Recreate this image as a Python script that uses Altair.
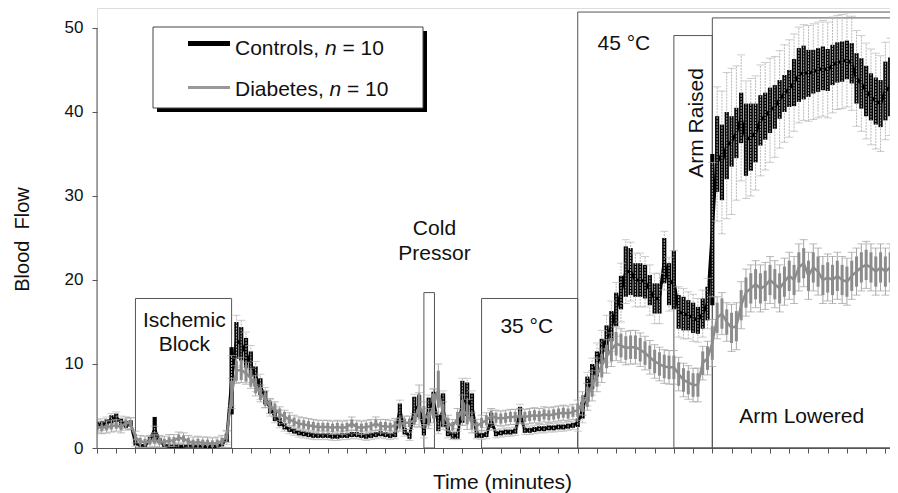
import altair as alt
import pandas as pd

# time grid (minutes), one reading every 0.25 min
minutes = [i * 0.25 for i in range(167)]

# Controls: mean, half-height of the thick black trace, SE error bar
c_mean = [
    2.7, 2.8, 3.0, 3.4, 3.6, 3.1, 2.8, 2.9,
    0.6, 0.3, 0.3, 1.0, 2.2, 0.9, 0.3, 0.2,
    0.2, 0.2, 0.2, 0.2, 0.2, 0.2, 0.2, 0.2,
    0.2, 0.2, 0.4, 1.2,
    8.0, 12.8, 12.4, 11.3,
    10.0, 8.5, 7.3, 6.0,
    4.8, 3.8, 3.1, 2.6,
    2.2, 2.0, 1.8, 1.7,
    1.6, 1.5, 1.5, 1.5,
    1.5, 1.4, 1.4, 1.5,
    1.5, 1.6, 1.6, 1.5,
    1.4, 1.5, 1.6, 1.7,
    1.6, 1.5, 1.6, 4.5,
    2.0, 1.4, 4.6, 5.0,
    2.0, 4.5, 5.5, 3.0,
    4.5, 2.0, 1.5, 1.5,
    5.5, 5.8, 5.0, 1.6,
    1.5, 1.6, 3.3, 1.7,
    1.8, 1.9, 1.9, 2.0,
    4.1, 2.1, 2.1, 2.2,
    2.3, 2.3, 2.4, 2.4,
    2.5, 2.5, 2.6, 2.7,
    3.0, 4.5, 7.0, 8.5,
    10.0, 11.5, 13.0, 14.5,
    16.5, 18.5, 21.0, 21.0,
    20.0, 20.0, 19.8, 18.8,
    17.8, 17.8, 22.3, 19.5,
    20.0, 16.2, 16.0, 15.8,
    15.5, 15.2, 16.0, 17.2,
    26.0, 35.0, 34.0, 36.0,
    36.5, 37.5, 39.3, 36.7,
    37.0, 37.5, 39.0, 39.5,
    40.2, 40.6, 41.5, 42.2,
    42.8, 43.5, 44.4, 44.7,
    44.6, 44.8, 45.0, 45.2,
    45.0, 45.6, 45.9, 46.0,
    46.2, 45.8, 44.0, 43.4,
    42.5, 41.8, 41.3, 41.0,
    42.5, 43.0, 41.5,
]
c_band = [
    0.4, 0.4, 0.4, 0.5, 0.5, 0.4, 0.4, 0.4,
    0.3, 0.2, 0.2, 0.3, 1.5, 0.3, 0.2, 0.2,
    0.2, 0.2, 0.2, 0.2, 0.2, 0.2, 0.2, 0.2,
    0.2, 0.2, 0.2, 0.5,
    4.0, 2.2, 2.0, 1.8,
    1.5, 1.2, 1.0, 0.8,
    0.7, 0.6, 0.5, 0.4,
    0.3, 0.3, 0.3, 0.3,
    0.3, 0.3, 0.3, 0.3,
    0.3, 0.3, 0.3, 0.3,
    0.3, 0.3, 0.3, 0.3,
    0.3, 0.3, 0.3, 0.3,
    0.3, 0.3, 0.3, 0.8,
    0.4, 0.3, 1.5, 1.3,
    0.5, 1.5, 1.2, 1.0,
    2.0, 0.6, 0.4, 0.4,
    2.5, 2.0, 1.5, 0.4,
    0.3, 0.3, 0.9, 0.3,
    0.3, 0.3, 0.3, 0.3,
    0.8, 0.3, 0.3, 0.3,
    0.3, 0.3, 0.3, 0.3,
    0.3, 0.3, 0.3, 0.3,
    0.5, 1.0, 1.5, 1.5,
    1.5, 1.5, 1.6, 1.8,
    2.0, 2.0, 3.0, 2.8,
    2.0, 2.0, 2.0, 1.8,
    1.8, 1.8, 2.7, 2.5,
    3.5, 2.0, 2.0, 1.8,
    1.8, 1.6, 1.8, 2.0,
    9.0, 4.5, 4.5, 4.0,
    3.0, 3.0, 3.0, 4.3,
    4.0, 3.5, 3.0, 2.8,
    2.7, 2.6, 2.3, 2.2,
    2.2, 2.8, 3.2, 3.2,
    2.8, 2.6, 2.6, 2.6,
    2.5, 2.4, 2.4, 2.4,
    2.3, 2.4, 3.0, 3.0,
    3.0, 2.8, 2.8, 2.8,
    3.5, 3.5, 3.5,
]
c_se = [
    0.7, 0.7, 0.7, 0.7, 0.7, 0.7, 0.7, 0.7,
    0.4, 0.4, 0.4, 0.4, 0.4, 0.4, 0.4, 0.4,
    0.4, 0.4, 0.4, 0.4, 0.4, 0.4, 0.4, 0.4,
    0.4, 0.4, 0.4, 0.8,
    3.0, 3.0, 2.8, 2.5,
    2.2, 1.8, 1.5, 1.2,
    1.0, 0.8, 0.7, 0.6,
    0.5, 0.5, 0.5, 0.5,
    0.5, 0.5, 0.5, 0.5,
    0.5, 0.5, 0.5, 0.5,
    0.5, 0.5, 0.5, 0.5,
    0.5, 0.5, 0.5, 0.5,
    0.5, 0.5, 0.5, 1.2,
    0.6, 0.5, 1.8, 1.6,
    0.8, 1.8, 1.6, 1.3,
    2.3, 0.8, 0.5, 0.5,
    2.8, 2.5, 1.8, 0.5,
    0.5, 0.5, 1.2, 0.5,
    0.5, 0.5, 0.5, 0.5,
    1.1, 0.5, 0.5, 0.5,
    0.5, 0.5, 0.5, 0.5,
    0.5, 0.5, 0.5, 0.5,
    1.0, 1.5, 2.0, 2.2,
    2.5, 2.5, 2.8, 3.0,
    3.2, 3.5, 3.8, 3.5,
    3.2, 3.2, 3.0, 3.0,
    3.0, 3.0, 3.5, 3.2,
    3.5, 3.0, 3.0, 2.8,
    2.8, 2.6, 2.8, 3.0,
    8.0, 8.0, 8.5, 8.7,
    8.7, 8.0, 7.5, 7.0,
    7.0, 6.8, 6.6, 6.4,
    6.2, 6.0, 5.8, 5.8,
    5.8, 5.8, 5.7, 5.7,
    5.7, 5.7, 5.7, 5.7,
    5.7, 5.7, 5.6, 5.6,
    5.6, 5.6, 5.7, 5.7,
    5.7, 5.7, 5.7, 5.7,
    5.8, 5.8, 5.8,
]

# Diabetes: mean, half-height of the grey trace, SE error bar
d_mean = [
    2.5, 2.4, 2.5, 2.6, 2.7, 2.5, 3.0, 2.9,
    1.3, 0.8, 0.7, 0.8, 0.9, 0.8, 0.7, 0.9,
    0.9, 1.2, 1.1, 0.8, 0.6, 0.7, 0.6, 0.6,
    0.5, 0.6, 0.8, 1.4,
    6.5, 9.2, 9.3, 8.9,
    8.3, 7.4, 6.5, 5.8,
    5.0, 4.6, 4.1, 3.7,
    3.4, 3.1, 2.9, 2.8,
    2.7, 2.6, 2.5, 2.5,
    2.5, 2.4, 2.5, 2.4,
    2.5, 2.9, 2.5, 2.4,
    2.5, 2.6, 2.9, 2.6,
    2.6, 2.5, 2.7, 2.8,
    3.0, 3.0, 3.3, 5.0,
    4.0, 3.5, 5.0, 7.0,
    4.0, 3.0, 2.6, 3.5,
    4.5, 4.0, 3.0, 2.6,
    3.0, 3.3, 3.8, 3.6,
    3.5, 3.6, 3.7, 3.7,
    3.8, 3.7, 3.8, 3.9,
    3.8, 4.0, 3.9, 4.0,
    4.1, 4.2, 4.1, 4.3,
    4.5, 5.3, 6.1, 7.4,
    8.7, 9.8, 10.9, 11.7,
    12.4, 12.2, 11.9, 12.0,
    12.0, 11.7, 11.3, 10.8,
    10.3, 10.0, 9.7, 9.6,
    9.6, 8.8, 8.1, 7.8,
    7.5, 7.5, 10.1, 10.7,
    12.5, 15.5, 16.0, 15.0,
    14.3, 14.5, 17.0, 18.5,
    19.0, 19.5, 19.0, 19.3,
    20.0, 19.5, 19.0, 19.8,
    20.5, 20.0, 21.5, 22.0,
    20.5, 21.5, 21.0, 20.0,
    20.3, 20.0, 20.5, 20.0,
    19.8, 20.5, 21.0, 21.5,
    21.8, 21.5, 21.0, 21.5,
    21.0, 21.5, 20.8,
]
d_band = [
    0.4, 0.4, 0.4, 0.4, 0.4, 0.4, 0.4, 0.4,
    0.4, 0.4, 0.4, 0.4, 0.4, 0.4, 0.4, 0.4,
    0.4, 0.4, 0.4, 0.4, 0.4, 0.4, 0.4, 0.4,
    0.4, 0.4, 0.4, 0.4,
    1.5, 1.2, 1.2, 1.0,
    1.0, 0.9, 0.8, 0.8,
    0.7, 0.7, 0.6, 0.6,
    0.5, 0.5, 0.5, 0.5,
    0.5, 0.5, 0.5, 0.5,
    0.5, 0.5, 0.5, 0.5,
    0.5, 0.5, 0.5, 0.5,
    0.5, 0.5, 0.5, 0.5,
    0.5, 0.5, 0.5, 0.5,
    0.5, 0.5, 0.5, 1.5,
    1.0, 0.8, 1.5, 2.2,
    1.2, 0.6, 0.5, 0.8,
    1.2, 1.2, 0.8, 0.5,
    0.6, 0.6, 0.6, 0.6,
    0.6, 0.6, 0.6, 0.6,
    0.6, 0.6, 0.6, 0.6,
    0.6, 0.6, 0.6, 0.6,
    0.6, 0.6, 0.6, 0.6,
    0.8, 1.0, 1.2, 1.3,
    1.4, 1.4, 1.4, 1.4,
    1.4, 1.4, 1.4, 1.4,
    1.4, 1.4, 1.4, 1.4,
    1.4, 1.4, 1.4, 1.4,
    1.4, 1.4, 1.4, 1.4,
    1.4, 1.4, 1.4, 1.4,
    2.0, 1.8, 1.8, 1.5,
    1.8, 1.8, 1.8, 1.8,
    1.8, 1.8, 1.8, 1.8,
    1.8, 1.8, 1.8, 1.8,
    1.8, 1.8, 1.8, 1.8,
    1.8, 1.8, 1.8, 1.8,
    1.8, 1.8, 1.8, 1.8,
    1.8, 1.8, 1.8, 1.8,
    1.8, 1.8, 1.8, 1.8,
    1.8, 1.8, 1.8,
]
d_se = [
    0.7, 0.7, 0.7, 0.7, 0.7, 0.7, 0.7, 0.7,
    0.7, 0.7, 0.7, 0.7, 0.7, 0.7, 0.7, 0.7,
    0.7, 0.7, 0.7, 0.7, 0.7, 0.7, 0.7, 0.7,
    0.7, 0.7, 0.7, 0.7,
    1.8, 1.5, 1.5, 1.3,
    1.2, 1.2, 1.0, 1.0,
    0.9, 0.9, 0.8, 0.8,
    0.8, 0.8, 0.8, 0.8,
    0.8, 0.8, 0.8, 0.8,
    0.8, 0.8, 0.8, 0.8,
    0.8, 0.8, 0.8, 0.8,
    0.8, 0.8, 0.8, 0.8,
    0.8, 0.8, 0.8, 0.8,
    0.8, 0.8, 0.8, 2.5,
    1.5, 1.2, 2.0, 3.0,
    1.5, 0.9, 0.8, 1.2,
    1.8, 1.8, 1.2, 0.8,
    0.9, 0.9, 0.9, 0.9,
    0.9, 0.9, 0.9, 0.9,
    0.9, 0.9, 0.9, 0.9,
    0.9, 0.9, 0.9, 0.9,
    0.9, 0.9, 0.9, 0.9,
    1.2, 1.4, 1.6, 1.8,
    2.0, 2.0, 2.0, 2.0,
    2.0, 2.0, 2.0, 2.0,
    2.0, 2.0, 2.0, 2.0,
    2.0, 2.0, 2.0, 2.0,
    2.0, 2.0, 2.0, 2.0,
    2.0, 2.0, 2.0, 2.0,
    2.8, 2.5, 2.5, 2.3,
    2.8, 2.8, 2.8, 2.8,
    2.8, 2.8, 2.8, 2.8,
    2.8, 2.8, 2.8, 2.8,
    2.8, 2.8, 2.8, 2.8,
    2.8, 2.8, 2.8, 2.8,
    2.8, 2.8, 2.8, 2.8,
    2.8, 2.8, 2.8, 2.8,
    2.8, 2.8, 2.8, 2.8,
    2.8, 2.8, 2.8,
]

# protocol phase boxes
phase_names = ["Ischemic Block", "Cold Pressor", "35 °C", "45 °C", "Arm Raised", "Arm Lowered"]
phase_start = [2.0, 17.0, 20.0, 25.0, 30.0, 32.0]
phase_end = [7.0, 17.55, 25.0, 43.0, 32.0, 43.0]
phase_top = [17.8, 18.5, 17.8, 51.9, 49.1, 51.2]

# phase labels
label_text = ["Ischemic", "Block", "Cold", "Pressor", "35 °C", "45 °C", "Arm Lowered"]
label_t = [4.54, 4.54, 17.55, 17.55, 22.35, 27.4, 36.65]
label_v = [14.4, 11.5, 25.3, 22.4, 13.65, 47.4, 2.94]
rot_text = ["Arm Raised"]
rot_t = [31.5]
rot_v = [38.7]

legend_series = ["Controls", "Diabetes"]
legend_n = [10, 10]

y_ticks = [0, 10, 20, 30, 40, 50]
x_ticks = list(range(0, 42))

FONT = "Liberation Sans"

n = min(len(minutes), len(c_mean), len(c_band), len(c_se), len(d_mean), len(d_band), len(d_se))
ctrl = pd.DataFrame({"t": minutes[:n], "m": c_mean[:n], "b": c_band[:n], "e": c_se[:n]})
diab = pd.DataFrame({"t": minutes[:n], "m": d_mean[:n], "b": d_band[:n], "e": d_se[:n]})
phases = pd.DataFrame({"name": phase_names, "x0": phase_start, "x1": phase_end, "top": phase_top,
                       "bottom": [0] * len(phase_names)})
labels = pd.DataFrame({"text": label_text, "t": label_t, "v": label_v})
rlabels = pd.DataFrame({"text": rot_text, "t": rot_t, "v": rot_v})
yline = pd.DataFrame({"y0": [y_ticks[0]], "y1": [y_ticks[-1]]})
one = pd.DataFrame({"k": [0]})

xscale = alt.Scale(domain=[0, 41.24], nice=False, zero=False)
yscale = alt.Scale(domain=[0, 52.38], nice=False, zero=False)
xaxis = alt.Axis(values=x_ticks, labels=False, tickSize=5, grid=False, domainColor="#555",
                 tickColor="#555", title="Time (minutes)", titleFontSize=21, titleFontWeight="normal",
                 titleFont=FONT, titleColor="#111", titleX=405, titleY=40, titleBaseline="alphabetic")
yaxis = alt.Axis(values=y_ticks, domain=False, tickSize=5, grid=False, tickColor="#555",
                 labelFontSize=17, labelFont=FONT, labelColor="#111", labelPadding=9,
                 title="Blood\u00a0 Flow", titleFontSize=20, titleFontWeight="normal", titleFont=FONT,
                 titleColor="#111", titleX=-69, titleY=231, titleAngle=270,
                 titleBaseline="alphabetic", titleAlign="center")


def X(f):
    return alt.X(f, type="quantitative", scale=xscale, axis=xaxis)


def Y(f):
    return alt.Y(f, type="quantitative", scale=yscale, axis=yaxis)


calc = dict(lo="datum.m - datum.e", hi="datum.m + datum.e", blo="datum.m - datum.b", bhi="datum.m + datum.b")

boxes = alt.Chart(phases).mark_rect(fillOpacity=0, stroke="#555", strokeWidth=1, clip=True).encode(
    x=X("x0"), x2="x1", y=Y("bottom"), y2="top")

c_base = alt.Chart(ctrl).transform_calculate(**calc)
c_body = c_base.mark_rule(color="black", strokeWidth=4.2, clip=True).encode(x=X("t"), y=Y("blo"), y2="bhi")
c_line = c_base.mark_line(color="black", strokeWidth=3, clip=True).encode(x=X("t"), y=Y("m"))
c_err = c_base.mark_rule(color="#b8b8b8", strokeWidth=1, strokeDash=[2, 1], clip=True).encode(
    x=X("t"), y=Y("lo"), y2="hi")
c_cap_lo = c_base.mark_tick(orient="horizontal", size=8, thickness=1, color="#b8b8b8", clip=True).encode(
    x=X("t"), y=Y("lo"))
c_cap_hi = c_base.mark_tick(orient="horizontal", size=8, thickness=1, color="#b8b8b8", clip=True).encode(
    x=X("t"), y=Y("hi"))

d_base = alt.Chart(diab).transform_calculate(**calc)
d_err = d_base.mark_rule(color="#a6a6a6", strokeWidth=1, clip=True).encode(x=X("t"), y=Y("lo"), y2="hi")
d_cap_lo = d_base.mark_tick(orient="horizontal", size=8, thickness=1, color="#a0a0a0", clip=True).encode(
    x=X("t"), y=Y("lo"))
d_cap_hi = d_base.mark_tick(orient="horizontal", size=8, thickness=1, color="#a0a0a0", clip=True).encode(
    x=X("t"), y=Y("hi"))
d_body = d_base.mark_rule(color="#8c8c8c", strokeWidth=3, clip=True).encode(x=X("t"), y=Y("blo"), y2="bhi")
d_line = d_base.mark_line(color="#8c8c8c", strokeWidth=2.5, clip=True).encode(x=X("t"), y=Y("m"))

txt = alt.Chart(labels).mark_text(font=FONT, fontSize=21, color="#111", align="center",
                                  baseline="alphabetic").encode(x=X("t"), y=Y("v"), text="text:N")
rtxt = alt.Chart(rlabels).mark_text(font=FONT, fontSize=21, color="#111", align="center",
                                    baseline="alphabetic", angle=270).encode(x=X("t"), y=Y("v"), text="text:N")

yrule = alt.Chart(yline).mark_rule(color="#555", strokeWidth=1).encode(x=alt.value(0), y=Y("y0"), y2="y1")

# legend box with drop shadow
leg = [
    alt.Chart(one).mark_rect(color="black").encode(x=alt.value(60), x2=alt.value(330),
                                                   y=alt.value(23), y2=alt.value(104)),
    alt.Chart(one).mark_rect(fill="white", stroke="#444", strokeWidth=1).encode(
        x=alt.value(56), x2=alt.value(326), y=alt.value(19), y2=alt.value(100)),
    alt.Chart(one).mark_rule(color="black", strokeWidth=5).encode(x=alt.value(91), x2=alt.value(133),
                                                                  y=alt.value(35.5)),
    alt.Chart(one).mark_rule(color="#999", strokeWidth=3).encode(x=alt.value(91), x2=alt.value(133),
                                                                 y=alt.value(79.5)),
]
leg_y = [47, 88]
leg_w = [89.9, 94.5]
for s, nn, yy, ww in zip(legend_series, legend_n, leg_y, leg_w):
    leg.append(alt.Chart(one).mark_text(text=f"{s},", font=FONT, fontSize=21, color="#111", align="left",
                                        baseline="alphabetic").encode(x=alt.value(138), y=alt.value(yy)))
    leg.append(alt.Chart(one).mark_text(text="n", font=FONT, fontSize=21, fontStyle="italic", color="#111",
                                        align="left", baseline="alphabetic").encode(
        x=alt.value(138 + ww), y=alt.value(yy)))
    leg.append(alt.Chart(one).mark_text(text=f"= {nn}", font=FONT, fontSize=21, color="#111", align="left",
                                        baseline="alphabetic").encode(x=alt.value(138 + ww + 11.7 + 5.8),
                                                                      y=alt.value(yy)))

chart = alt.layer(
    boxes, c_body, c_line, c_err, c_cap_lo, c_cap_hi,
    d_err, d_cap_lo, d_cap_hi, d_body, d_line,
    txt, rtxt, yrule, *leg
).properties(
    width=793, height=440,
    padding={"left": 89, "top": 0, "right": 0, "bottom": 45},
    autosize=alt.AutoSizeParams(type="none"),
).configure_view(stroke=None).configure(font=FONT, background="white")

chart.save("out.html", embed_options={"renderer": "svg", "actions": False})
